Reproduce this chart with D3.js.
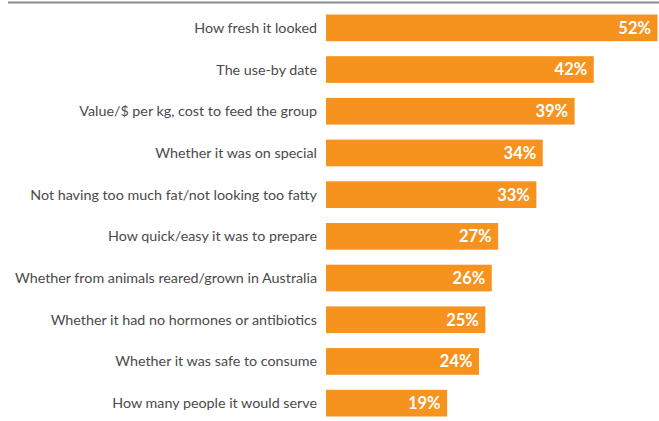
<!DOCTYPE html>
<html>
<head>
<meta charset="utf-8">
<script src="https://cdn.jsdelivr.net/npm/d3@7"></script>
<style>
  body { margin: 0; background: #fff; }
  svg { display: block; }
</style>
</head>
<body>
<svg width="659" height="421"></svg>
<script>
// what people looked at when buying meat
const categories = [
  "How fresh it looked",
  "The use-by date",
  "Value/$ per kg, cost to feed the group",
  "Whether it was on special",
  "Not having too much fat/not looking too fatty",
  "How quick/easy it was to prepare",
  "Whether from animals reared/grown in Australia",
  "Whether it had no hormones or antibiotics",
  "Whether it was safe to consume",
  "How many people it would serve"
];
const values = [52, 42, 39, 34, 33, 27, 26, 25, 24, 19];

const svg = d3.select('svg');

// top rule
svg.append('line')
  .attr('x1', 8).attr('x2', 659)
  .attr('y1', 2.5).attr('y2', 2.5)
  .attr('stroke', '#8c8c8c')
  .attr('stroke-width', 2);

const x = d3.scaleLinear().domain([0, 52]).range([326, 657.5]);
const y = d3.scaleBand().domain(categories).range([7, 424]).paddingInner(0.36).paddingOuter(0.18);

const row = svg.selectAll('g.row')
  .data(categories)
  .enter().append('g')
  .attr('class', 'row');

row.append('rect')
  .attr('x', x(0))
  .attr('y', d => y(d))
  .attr('width', (d, i) => x(values[i]) - x(0))
  .attr('height', y.bandwidth())
  .attr('fill', '#f6921e');

row.append('text')
  .attr('x', 317)
  .attr('y', d => y(d) + y.bandwidth() / 2)
  .attr('dy', '0.35em')
  .attr('text-anchor', 'end')
  .attr('font-family', 'Lato, sans-serif')
  .attr('font-size', 14.3)
  .attr('fill', '#4a4a4a')
  .text(d => d);

row.append('text')
  .attr('x', (d, i) => x(values[i]) - 6.5)
  .attr('y', d => y(d) + y.bandwidth() / 2)
  .attr('dy', '0.36em')
  .attr('text-anchor', 'end')
  .attr('font-family', 'Lato, sans-serif')
  .attr('font-weight', 'bold')
  .attr('font-size', 16.5)
  .attr('fill', '#fff')
  .text((d, i) => values[i] + '%');
</script>
</body>
</html>
